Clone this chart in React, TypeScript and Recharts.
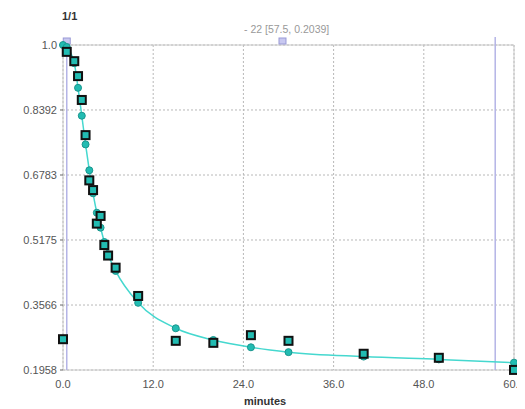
import {
  ComposedChart,
  Line,
  Scatter,
  XAxis,
  YAxis,
  CartesianGrid,
  ReferenceLine,
  ReferenceArea,
  ReferenceDot,
} from "recharts";

// sample times (minutes)
const times = [0, 0.5, 1.5, 2, 2.5, 3, 3.5, 4, 4.5, 5, 5.5, 6, 7, 10, 15, 20, 25, 30, 40, 50, 60];
// measured values (squares)
const measured = [
  0.272, 0.983, 0.96, 0.923, 0.864, 0.777, 0.665, 0.641, 0.558, 0.577, 0.505, 0.479, 0.449, 0.379,
  0.268, 0.263, 0.282, 0.268, 0.236, 0.226, 0.196,
];
// model values (circles + curve)
const model = [
  1.0, 0.995, 0.955, 0.894, 0.825, 0.754, 0.69, 0.633, 0.585, 0.548, 0.5125, 0.482, 0.441, 0.362,
  0.299, 0.27, 0.252, 0.24, 0.229, 0.222, 0.214,
];
const xTicks = [0, 12, 24, 36, 48, 60];
const yTicks = [0.1958, 0.3566, 0.5175, 0.6783, 0.8392, 1.0];

const data = times.map((t, i) => ({ t, measured: measured[i], model: model[i] }));

const TEAL = "#22bcb2";

const Square = (props: any) => {
  const { cx, cy } = props;
  if (cx == null || cy == null) return null;
  return <rect x={cx - 4} y={cy - 4} width={8} height={8} fill={TEAL} stroke="#111" strokeWidth={2} />;
};

const Dot = (props: any) => {
  const { cx, cy, index } = props;
  if (cx == null || cy == null) return null;
  return <circle key={index} cx={cx} cy={cy} r={3.5} fill={TEAL} stroke="#1a968e" strokeWidth={1} />;
};

const Marker = (props: any) => {
  const { cx, cy } = props;
  if (cx == null || cy == null) return null;
  return <rect x={cx - 3.5} y={cy - 7} width={7} height={6} fill="#c8c8f0" stroke="#9a9ad6" strokeWidth={1} />;
};

const fmtY = (v: number) => (v === 1 ? "1.0" : v.toFixed(4));

export default function App() {
  return (
    <div style={{ position: "relative", width: 525, height: 409, marginLeft: -8, marginTop: -8, fontFamily: "Liberation Sans, Arial, sans-serif" }}>
      <div style={{ position: "absolute", left: 7, top: 4, width: 530, height: 420, borderLeft: "1px solid #d4d4d4", borderTop: "1px solid #d4d4d4" }} />
      <div style={{ position: "absolute", left: 62, top: 10, fontSize: 11, fontWeight: "bold", color: "#333" }}>1/1</div>
      <div style={{ position: "absolute", left: 244, top: 23, fontSize: 10.5, color: "#999" }}>- 22 [57.5, 0.2039]</div>
      <div style={{ position: "absolute", left: 244, top: 395, fontSize: 11, fontWeight: "bold", color: "#333" }}>minutes</div>
      <div style={{ position: "absolute", left: 0, top: 0 }}>
        <ComposedChart width={525} height={409} data={data} margin={{ top: 45, right: 11, bottom: 19, left: 5 }}>
          <CartesianGrid stroke="#b8b8b8" strokeDasharray="2 2" />
          <ReferenceArea x1={0} x2={60} y1={0.1958} y2={1.0} fill="none" stroke="#c8c8c8" ifOverflow="visible" />
          <XAxis
            type="number"
            dataKey="t"
            domain={[0, 60]}
            ticks={xTicks}
            tickFormatter={(v: number) => v.toFixed(1)}
            axisLine={false}
            tickLine={false}
            height={20}
            tickMargin={4}
            tick={{ fontSize: 11, fill: "#555" }}
          />
          <YAxis
            type="number"
            domain={[0.1958, 1.0]}
            ticks={yTicks}
            tickFormatter={fmtY}
            axisLine={false}
            tickSize={3}
            tickMargin={3}
            tickLine={{ stroke: "#666" }}
            width={58}
            tick={{ fontSize: 11, fill: "#555" }}
          />
          <ReferenceLine x={0.5} stroke="#b4b4e6" strokeWidth={1.5} />
          <ReferenceLine
            segment={[
              { x: 57.5, y: 1.02 },
              { x: 57.5, y: 0.1958 },
            ]}
            stroke="#b4b4e6"
            strokeWidth={1.5}
            ifOverflow="visible"
          />
          <ReferenceDot x={0.5} y={1.0} shape={Marker} ifOverflow="visible" />
          <ReferenceDot x={29.2} y={1.0} shape={Marker} ifOverflow="visible" />
          <Line
            type="monotone"
            dataKey="model"
            stroke="#45d8cf"
            strokeWidth={1.5}
            dot={Dot}
            activeDot={false}
            isAnimationActive={false}
          />
          <Scatter dataKey="measured" shape={Square} isAnimationActive={false} />
        </ComposedChart>
      </div>
    </div>
  );
}
